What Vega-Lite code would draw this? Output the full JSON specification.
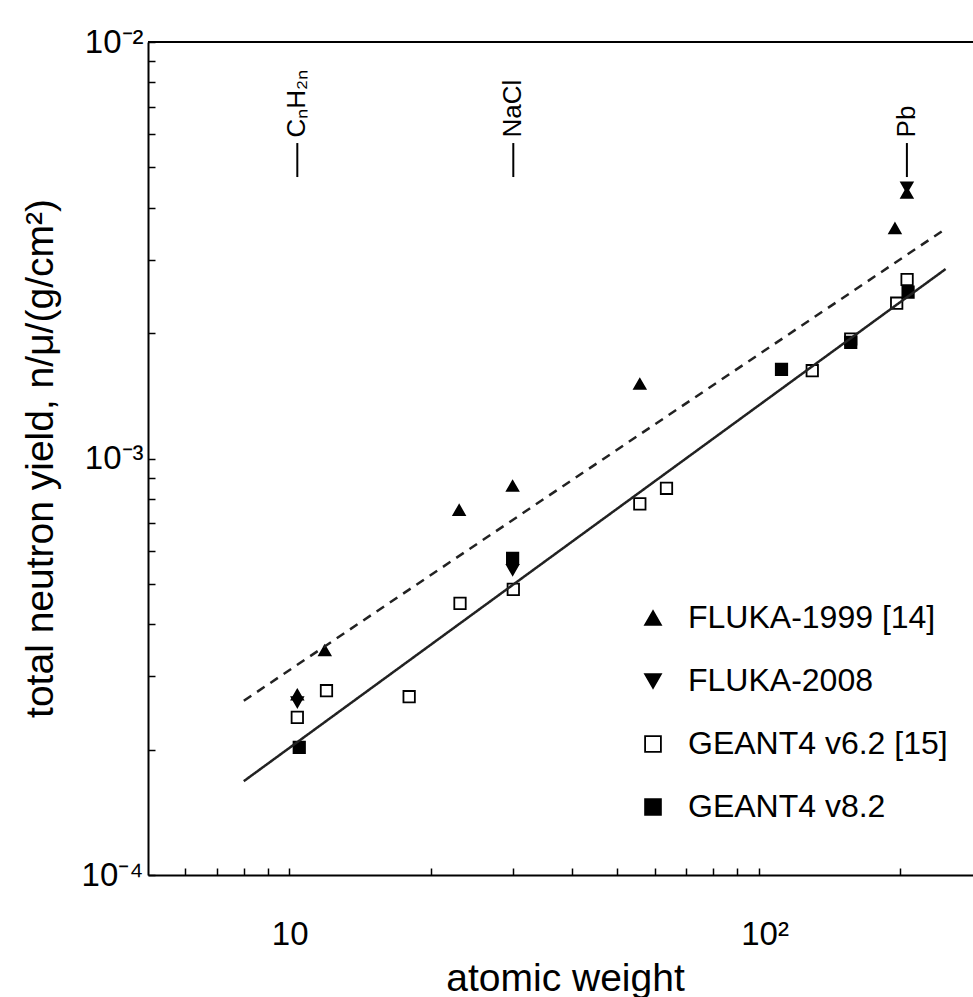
{
  "$schema": "https://vega.github.io/schema/vega-lite/v6.json",
  "width": 825,
  "height": 833,
  "autosize": {"type": "none"},
  "padding": {"left": 148, "top": 42, "right": 0, "bottom": 122},
  "background": "white",
  "config": {
    "view": {"stroke": null},
    "font": "Liberation Sans",
    "axis": {
      "domainColor": "black",
      "domainWidth": 2,
      "tickColor": "black",
      "tickWidth": 1.5,
      "labelColor": "black",
      "titleColor": "black",
      "grid": false,
      "labelFont": "Liberation Sans",
      "titleFont": "Liberation Sans",
      "titleFontWeight": "normal"
    },
    "legend": {
      "orient": "none",
      "legendX": 489,
      "legendY": 554,
      "titleFontSize": 1,
      "labelFontSize": 32,
      "labelFont": "Liberation Sans",
      "labelColor": "black",
      "symbolSize": 250,
      "symbolStrokeColor": "black",
      "symbolStrokeWidth": 1.8,
      "symbolOpacity": 1,
      "rowPadding": 31,
      "labelOffset": 19,
      "labelLimit": 400
    }
  },
  "datasets": {
    "points": [
      {"series": "FLUKA-1999 [14]", "A": 10.4, "yield": 0.000271},
      {"series": "FLUKA-1999 [14]", "A": 11.9, "yield": 0.000346},
      {"series": "FLUKA-1999 [14]", "A": 23.0, "yield": 0.000752},
      {"series": "FLUKA-1999 [14]", "A": 29.9, "yield": 0.000859},
      {"series": "FLUKA-1999 [14]", "A": 55.8, "yield": 0.00151},
      {"series": "FLUKA-1999 [14]", "A": 195, "yield": 0.00357},
      {"series": "FLUKA-1999 [14]", "A": 206.8, "yield": 0.00434},
      {"series": "GEANT4 v6.2 [15]", "A": 10.4, "yield": 0.000239},
      {"series": "GEANT4 v6.2 [15]", "A": 12.0, "yield": 0.000277},
      {"series": "GEANT4 v6.2 [15]", "A": 18.0, "yield": 0.000268},
      {"series": "GEANT4 v6.2 [15]", "A": 23.1, "yield": 0.000449},
      {"series": "GEANT4 v6.2 [15]", "A": 30.0, "yield": 0.000485},
      {"series": "GEANT4 v6.2 [15]", "A": 55.8, "yield": 0.000778},
      {"series": "GEANT4 v6.2 [15]", "A": 63.6, "yield": 0.000848},
      {"series": "GEANT4 v6.2 [15]", "A": 130, "yield": 0.001625},
      {"series": "GEANT4 v6.2 [15]", "A": 157, "yield": 0.001936},
      {"series": "GEANT4 v6.2 [15]", "A": 196.7, "yield": 0.00236},
      {"series": "GEANT4 v6.2 [15]", "A": 207, "yield": 0.00269},
      {"series": "GEANT4 v8.2", "A": 10.5, "yield": 0.0002025},
      {"series": "GEANT4 v8.2", "A": 29.9, "yield": 0.000576},
      {"series": "GEANT4 v8.2", "A": 111.8, "yield": 0.001637},
      {"series": "GEANT4 v8.2", "A": 157, "yield": 0.0019},
      {"series": "GEANT4 v8.2", "A": 208, "yield": 0.00251},
      {"series": "FLUKA-2008", "A": 10.4, "yield": 0.00026},
      {"series": "FLUKA-2008", "A": 29.9, "yield": 0.00054},
      {"series": "FLUKA-2008", "A": 206.8, "yield": 0.00448}
    ],
    "fits": [
      {"fit": "solid", "A": 8, "yield": 0.000168},
      {"fit": "solid", "A": 250, "yield": 0.00285},
      {"fit": "dashed", "A": 8, "yield": 0.000262},
      {"fit": "dashed", "A": 250, "yield": 0.00356}
    ],
    "labels": [
      {"name": "CₙH₂ₙ", "A": 10.4},
      {"name": "NaCl", "A": 30.0},
      {"name": "Pb", "A": 206.8}
    ]
  },
  "layer": [
    {
      "data": {"name": "points"},
      "mark": {"type": "point", "filled": true, "stroke": "black", "strokeWidth": 1.8, "size": 130, "opacity": 1},
      "encoding": {
        "x": {
          "field": "A",
          "type": "quantitative",
          "scale": {"type": "log", "domain": [5, 286], "nice": false},
          "axis": {
            "title": "atomic weight",
            "titleFontSize": 39,
            "titleY": 115,
            "titleX": 417,
            "titleBaseline": "alphabetic",
            "titleAlign": "center",
            "values": [6, 7, 8, 9, 10, 20, 30, 40, 50, 60, 70, 80, 90, 100, 200],
            "labelExpr": "datum.value == 10 ? '10' : datum.value == 100 ? '10²' : ''",
            "labelFontSize": 33,
            "labelAlign": "left",
            "labelOffset": -18,
            "labelBaseline": "top",
            "labelPadding": 50,
            "tickSize": -7,
            "labelOverlap": false,
            "labelFlush": false
          }
        },
        "y": {
          "field": "yield",
          "type": "quantitative",
          "scale": {"type": "log", "domain": [0.0001, 0.01], "nice": false},
          "axis": {
            "title": "total neutron yield, n/μ/(g/cm²)",
            "titleFontSize": 39,
            "titleAngle": 270,
            "titleX": -96,
            "titleY": 416,
            "titleBaseline": "alphabetic",
            "titleAlign": "center",
            "values": [0.0001, 0.0002, 0.0003, 0.0004, 0.0005, 0.0006, 0.0007, 0.0008, 0.0009, 0.001, 0.002, 0.003, 0.004, 0.005, 0.006, 0.007, 0.008, 0.009, 0.01],
            "labelExpr": "datum.value == 0.01 ? '10⁻²' : datum.value == 0.001 ? '10⁻³' : datum.value == 0.0001 ? '10⁻⁴' : ''",
            "labelFontSize": 33,
            "labelAlign": "right",
            "labelBaseline": "middle",
            "labelPadding": 12,
            "tickSize": -7,
            "labelOverlap": false,
            "labelFlush": false
          }
        },
        "shape": {
          "field": "series",
          "type": "nominal",
          "title": " ",
          "scale": {
            "domain": ["FLUKA-1999 [14]", "FLUKA-2008", "GEANT4 v6.2 [15]", "GEANT4 v8.2"],
            "range": ["triangle-up", "triangle-down", "square", "square"]
          },
          "legend": {
            "encode": {
              "symbols": {
                "update": {
                  "stroke": {"value": "black"},
                  "strokeWidth": {"value": 1.8},
                  "opacity": {"value": 1}
                }
              }
            }
          }
        },
        "fill": {
          "field": "series",
          "type": "nominal",
          "title": " ",
          "scale": {
            "domain": ["FLUKA-1999 [14]", "FLUKA-2008", "GEANT4 v6.2 [15]", "GEANT4 v8.2"],
            "range": ["black", "black", "white", "black"]
          },
          "legend": {
            "encode": {
              "symbols": {
                "update": {
                  "stroke": {"value": "black"},
                  "strokeWidth": {"value": 1.8},
                  "opacity": {"value": 1}
                }
              }
            }
          }
        }
      }
    },
    {
      "data": {"name": "fits"},
      "mark": {"type": "line", "color": "#222222", "strokeWidth": 2.5},
      "encoding": {
        "x": {"field": "A", "type": "quantitative"},
        "y": {"field": "yield", "type": "quantitative"},
        "detail": {"field": "fit", "type": "nominal"},
        "strokeDash": {
          "field": "fit",
          "type": "nominal",
          "scale": {"domain": ["solid", "dashed"], "range": [[1, 0], [9, 7]]},
          "legend": null
        }
      }
    },
    {
      "data": {"values": [{}]},
      "mark": {"type": "rule", "color": "black", "strokeWidth": 2},
      "encoding": {"y": {"datum": 0.01, "type": "quantitative"}}
    },
    {
      "data": {"name": "labels"},
      "mark": {"type": "rule", "color": "black", "strokeWidth": 2},
      "encoding": {
        "x": {"field": "A", "type": "quantitative"},
        "y": {"datum": 0.00474, "type": "quantitative"},
        "y2": {"datum": 0.00572}
      }
    },
    {
      "data": {"name": "labels"},
      "mark": {"type": "text", "angle": 270, "align": "left", "baseline": "middle", "fontSize": 26, "font": "Liberation Sans", "color": "black"},
      "encoding": {
        "x": {"field": "A", "type": "quantitative"},
        "y": {"datum": 0.0059, "type": "quantitative"},
        "text": {"field": "name", "type": "nominal"}
      }
    }
  ]
}
